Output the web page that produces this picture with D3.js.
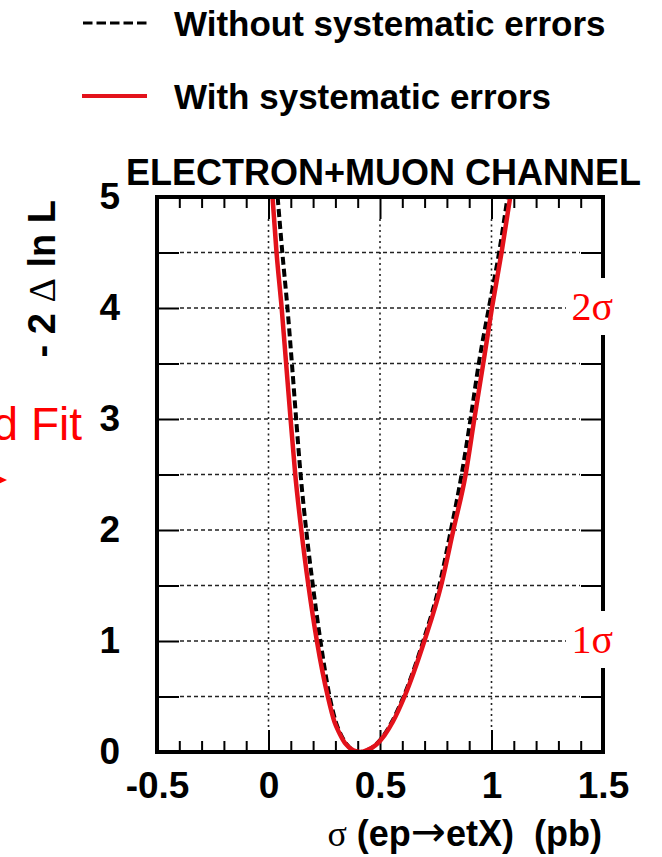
<!DOCTYPE html>
<html>
<head>
<meta charset="utf-8">
<script src="https://cdn.jsdelivr.net/npm/d3@7"></script>
<style>
  body { margin: 0; background: #fff; }
  svg { display: block; }
</style>
</head>
<body>
<svg id="chart" width="662" height="857"></svg>
<script>
// Likelihood scan: cross section sigma (pb) vs -2 delta ln L
const sigmaNoSyst = [0.041, 0.062, 0.085, 0.105, 0.124, 0.144, 0.169, 0.199, 0.233, 0.274, 0.302, 0.324, 0.352, 0.382, 0.410, 0.440, 0.478, 0.517, 0.553, 0.606, 0.694, 0.766, 0.818, 0.866, 0.906, 0.943, 0.988, 1.034, 1.072];
const dllNoSyst   = [5.0, 4.5, 4.0, 3.5, 3.0, 2.5, 2.0, 1.5, 1.0, 0.5, 0.27, 0.16, 0.065, 0.014, 0.0, 0.015, 0.06, 0.15, 0.27, 0.5, 1.0, 1.5, 2.0, 2.5, 3.0, 3.5, 4.0, 4.5, 5.0];

const sigmaSyst = [0.018, 0.036, 0.059, 0.079, 0.099, 0.120, 0.147, 0.179, 0.217, 0.266, 0.296, 0.318, 0.347, 0.380, 0.410, 0.440, 0.480, 0.520, 0.557, 0.610, 0.699, 0.774, 0.829, 0.884, 0.923, 0.963, 1.002, 1.045, 1.084];
const dllSyst   = [5.0, 4.5, 4.0, 3.5, 3.0, 2.5, 2.0, 1.5, 1.0, 0.5, 0.27, 0.17, 0.07, 0.015, 0.0, 0.015, 0.06, 0.15, 0.27, 0.5, 1.0, 1.5, 2.0, 2.5, 3.0, 3.5, 4.0, 4.5, 5.0];

const xMajorTicks = [-0.5, 0, 0.5, 1, 1.5];
const xTickLabels = ["-0.5", "0", "0.5", "1", "1.5"];
const xMinorTicks = [-0.4, -0.3, -0.2, -0.1, 0.1, 0.2, 0.3, 0.4, 0.6, 0.7, 0.8, 0.9, 1.1, 1.2, 1.3, 1.4];
const yTicks = [0, 0.5, 1, 1.5, 2, 2.5, 3, 3.5, 4, 4.5, 5];
const yTickLabels = ["0", "", "1", "", "2", "", "3", "", "4", "", "5"];
const xGrid = [0, 0.5, 1];
const yGrid = [0.5, 1, 1.5, 2, 2.5, 3, 3.5, 4, 4.5];
const sigmaLevels = [1, 4];
const sigmaLevelLabels = ["1\u03C3", "2\u03C3"];

const legendLabels = ["Without systematic errors", "With systematic errors"];
const titleText = "ELECTRON+MUON CHANNEL";

const RED = "#e3121b";
const SANS = "'Liberation Sans', Arial, Helvetica, sans-serif";
const SERIF = "'Liberation Serif', 'Times New Roman', serif";

const svg = d3.select("#chart");
const x = d3.scaleLinear().domain([-0.5, 1.5]).range([157, 603]);
const y = d3.scaleLinear().domain([0, 5]).range([752, 197]);
const [x0, x1] = x.range();
const [y0, y1] = y.range();

// grid
const grid = svg.append("g").attr("stroke", "#222").attr("fill", "none");
grid.selectAll("line.h").data(yGrid).join("line").attr("class", "h")
  .attr("x1", x0 + 23).attr("x2", x1 - 23)
  .attr("y1", d => y(d)).attr("y2", d => y(d))
  .attr("stroke-width", 1.4).attr("stroke-dasharray", "4,3");
grid.selectAll("line.v").data(xGrid).join("line").attr("class", "v")
  .attr("x1", d => x(d)).attr("x2", d => x(d))
  .attr("y1", y1 + 22).attr("y2", y0 - 22)
  .attr("stroke-width", 1.6).attr("stroke-dasharray", "2,3.5");

// axes (ROOT-style inward ticks)
function styleAxis(g, fontSize) {
  g.select(".domain").remove();
  g.selectAll(".tick line").attr("stroke", "#000").attr("stroke-width", 2);
  g.selectAll(".tick text").attr("fill", "#000")
    .style("font-family", SANS).style("font-weight", "bold").style("font-size", fontSize + "px");
}
svg.append("g").attr("transform", `translate(0,${y0})`)
  .call(d3.axisBottom(x).tickValues(xMajorTicks).tickSizeInner(-22).tickSizeOuter(0)
    .tickPadding(20).tickFormat((d, i) => xTickLabels[i]))
  .call(g => styleAxis(g, 37));
svg.append("g").attr("transform", `translate(0,${y0})`)
  .call(d3.axisBottom(x).tickValues(xMinorTicks).tickSizeInner(-11).tickSizeOuter(0).tickFormat(""))
  .call(g => styleAxis(g, 10));
svg.append("g").attr("transform", `translate(0,${y1})`)
  .call(d3.axisTop(x).tickValues(xMajorTicks).tickSizeInner(-22).tickSizeOuter(0).tickFormat(""))
  .call(g => styleAxis(g, 10));
svg.append("g").attr("transform", `translate(0,${y1})`)
  .call(d3.axisTop(x).tickValues(xMinorTicks).tickSizeInner(-11).tickSizeOuter(0).tickFormat(""))
  .call(g => styleAxis(g, 10));
svg.append("g").attr("transform", `translate(${x0},0)`)
  .call(d3.axisLeft(y).tickValues(yTicks).tickSizeInner(-22).tickSizeOuter(0)
    .tickPadding(37).tickFormat((d, i) => yTickLabels[i]))
  .call(g => styleAxis(g, 37));
svg.append("g").attr("transform", `translate(${x1},0)`)
  .call(d3.axisRight(y).tickValues(yTicks).tickSizeInner(-22).tickSizeOuter(0).tickFormat(""))
  .call(g => styleAxis(g, 10));

// curves
svg.append("clipPath").attr("id", "plotClip").append("rect")
  .attr("x", x0).attr("y", y1).attr("width", x1 - x0).attr("height", y0 - y1);
const line = d3.line().x(d => x(d[0])).y(d => y(d[1])).curve(d3.curveMonotoneX);
const curves = svg.append("g").attr("clip-path", "url(#plotClip)").attr("fill", "none");
curves.append("path")
  .datum(d3.zip(sigmaNoSyst, dllNoSyst))
  .attr("d", line).attr("stroke", "#000").attr("stroke-width", 4)
  .attr("stroke-dasharray", "8,4");
curves.append("path")
  .datum(d3.zip(sigmaSyst, dllSyst))
  .attr("d", line).attr("stroke", RED).attr("stroke-width", 4.5)
  .attr("stroke-linejoin", "round");

// frame
svg.append("rect").attr("x", x0).attr("y", y1).attr("width", x1 - x0).attr("height", y0 - y1)
  .attr("fill", "none").attr("stroke", "#000").attr("stroke-width", 4);

// sigma level markers on the right edge
const lvl = svg.append("g");
lvl.selectAll("rect").data(sigmaLevels).join("rect")
  .attr("x", x1 - 37).attr("y", d => y(d) - 30).attr("width", 60).attr("height", 57)
  .attr("fill", "#fff");
lvl.selectAll("text").data(sigmaLevels).join("text")
  .attr("x", 613).attr("y", d => y(d) + 12).attr("text-anchor", "end")
  .attr("fill", "#f00").style("font-family", SERIF).style("font-size", "40px")
  .text((d, i) => sigmaLevelLabels[i]);

// title
svg.append("text").attr("x", 126).attr("y", 185)
  .style("font-family", SANS).style("font-weight", "bold").style("font-size", "36px")
  .text(titleText);

// y axis title
const yt = svg.append("text").attr("transform", "translate(55,200) rotate(-90)")
  .attr("text-anchor", "end").style("white-space", "pre")
  .style("font-family", SANS).style("font-weight", "bold").style("font-size", "38px");
yt.append("tspan").text("- 2 ");
yt.append("tspan").style("font-family", SERIF).style("font-weight", "normal").text("\u0394");
yt.append("tspan").text(" ln L");

// x axis title
const xt = svg.append("text").attr("x", 602).attr("y", 846)
  .attr("text-anchor", "end").style("white-space", "pre")
  .style("font-family", SANS).style("font-weight", "bold").style("font-size", "36px");
xt.append("tspan").style("font-family", SERIF).style("font-weight", "normal").text("\u03C3");
xt.append("tspan").text(" (ep");
xt.append("tspan").style("font-family", "'DejaVu Sans', sans-serif").style("font-weight", "normal")
  .style("font-size", "42px").text("\u2192");
xt.append("tspan").text("etX)  (pb)");

// legend
const lg = svg.append("g");
lg.append("line").attr("x1", 83).attr("x2", 147).attr("y1", 23).attr("y2", 23)
  .attr("stroke", "#000").attr("stroke-width", 3).attr("stroke-dasharray", "9.5,4");
lg.append("line").attr("x1", 82).attr("x2", 147).attr("y1", 96).attr("y2", 96)
  .attr("stroke", RED).attr("stroke-width", 4);
lg.selectAll("text").data(legendLabels).join("text")
  .attr("x", 174).attr("y", (d, i) => i === 0 ? 36 : 109)
  .style("font-family", SANS).style("font-weight", "bold").style("font-size", "35px")
  .text(d => d);

// partially visible annotation at the left edge
svg.append("text").attr("x", 82).attr("y", 440).attr("text-anchor", "end")
  .attr("fill", "#f00").style("font-family", SANS).style("font-size", "46px")
  .text("d Fit");
svg.append("path").attr("d", "M-4,475 L7,480 L-4,485 Z").attr("fill", "#f00");
</script>
</body>
</html>
